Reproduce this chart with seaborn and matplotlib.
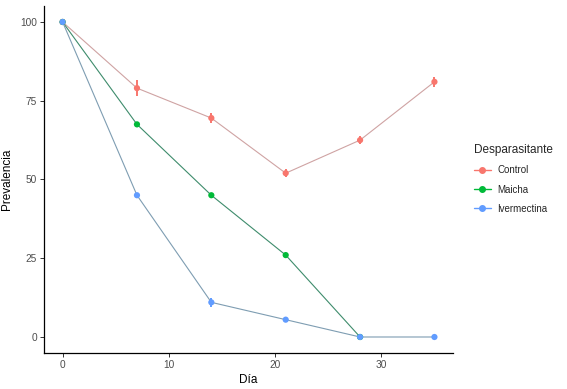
import pandas as pd
import matplotlib
matplotlib.use('Agg')
import matplotlib.pyplot as plt
from matplotlib.lines import Line2D
import seaborn as sns

# Data
dias = [0, 7, 14, 21, 28, 35]
control = [100, 79, 69.5, 52, 62.5, 81]
control_err = [0, 2.5, 1.5, 1.3, 1.3, 1.5]
maicha_dias = [0, 7, 14, 21, 28]
maicha = [100, 67.5, 45, 26, 0]
maicha_err = [0, 0, 0, 0, 0]
ivermectina = [100, 45, 11, 5.5, 0, 0]
ivermectina_err = [0, 0, 1.5, 0.5, 0, 0]

grupos = ['Control', 'Maicha', 'Ivermectina']
colores = {'Control': '#F8766D', 'Maicha': '#00BA38', 'Ivermectina': '#619CFF'}
colores_linea = {'Control': '#CFA3A3', 'Maicha': '#3E8C6C', 'Ivermectina': '#7E9DB2'}

df = pd.concat([
    pd.DataFrame({'Dia': dias, 'Prevalencia': control, 'err': control_err, 'Desparasitante': 'Control'}),
    pd.DataFrame({'Dia': maicha_dias, 'Prevalencia': maicha, 'err': maicha_err, 'Desparasitante': 'Maicha'}),
    pd.DataFrame({'Dia': dias, 'Prevalencia': ivermectina, 'err': ivermectina_err, 'Desparasitante': 'Ivermectina'}),
], ignore_index=True)

sns.set_theme(style='ticks')
plt.rcParams['font.family'] = ['Liberation Sans', 'DejaVu Sans']

fig = plt.figure(figsize=(5.67, 3.89), dpi=100)
ax = fig.add_axes([0.0776, 0.0932, 0.7214, 0.8908])

sns.lineplot(data=df, x='Dia', y='Prevalencia', hue='Desparasitante', hue_order=grupos,
             palette=colores_linea, linewidth=0.8, legend=False, ax=ax, zorder=2)

for g in grupos:
    sub = df[df['Desparasitante'] == g]
    sub = sub[sub['err'] > 0]
    ax.errorbar(sub['Dia'], sub['Prevalencia'], yerr=sub['err'], fmt='none',
                ecolor=colores[g], elinewidth=1.4, capsize=0, zorder=3)

sns.scatterplot(data=df, x='Dia', y='Prevalencia', hue='Desparasitante', hue_order=grupos,
                palette=colores, s=20, edgecolor='none', legend=False, ax=ax, zorder=4)

ax.set_xlim(-1.75, 36.75)
ax.set_ylim(-5, 105)
ax.set_xticks([0, 10, 20, 30])
ax.set_yticks([0, 25, 50, 75, 100])
ax.set_xlabel('Día', fontsize=8.5, color='black', labelpad=3)
ax.set_ylabel('Prevalencia', fontsize=8.5, color='black', labelpad=5)
ax.tick_params(axis='both', labelsize=7.3, labelcolor='#4D4D4D', color='#333333',
               length=3, width=0.7, pad=2)
for s in ['top', 'right']:
    ax.spines[s].set_visible(False)
for s in ['left', 'bottom']:
    ax.spines[s].set_color('black')
    ax.spines[s].set_linewidth(0.9)

handles = [Line2D([0], [0], color=colores[g], marker='o', markersize=4, linewidth=1.0)
           for g in grupos]
leg = fig.legend(handles, grupos, title='Desparasitante', loc='center left',
                 bbox_to_anchor=(0.82, 0.54), frameon=False, fontsize=7,
                 title_fontsize=8.5, handlelength=1.8, handletextpad=0.6,
                 labelspacing=0.95, alignment='left')

fig.savefig('out.png', dpi=100)
